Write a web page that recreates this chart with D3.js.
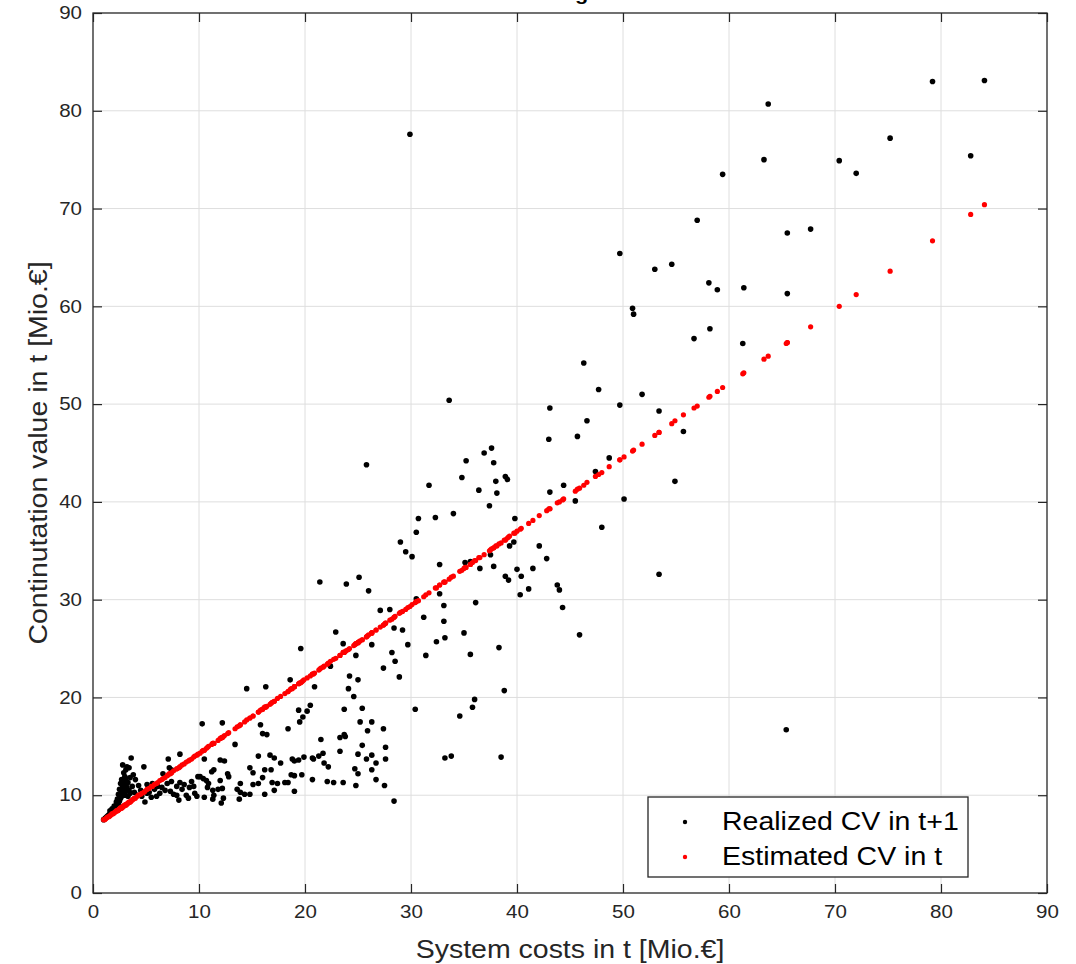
<!DOCTYPE html>
<html>
<head>
<meta charset="utf-8">
<script src="https://cdn.jsdelivr.net/npm/d3@7"></script>
<style>
  body { margin: 0; background: #fff; }
  svg { display: block; font-family: "Liberation Sans", Arial, Helvetica, sans-serif; }
</style>
</head>
<body>
<svg id="chart" width="1076" height="964"></svg>
<script>
// tick values and texts
const xTicks = [0, 10, 20, 30, 40, 50, 60, 70, 80, 90];
const yTicks = [0, 10, 20, 30, 40, 50, 60, 70, 80, 90];
const titleText = 'Continuation value regression in t and t+1';
const xLabel = 'System costs in t [Mio.\u20AC]';
const yLabel = 'Continutation value in t [Mio.\u20AC]';
const legendLabels = ['Realized CV in t+1', 'Estimated CV in t'];
const seriesColors = ['#000000', '#ff0000'];

// observations: [system cost in t, realized CV in t+1, estimated CV in t]
const clusterObs = [
  [1.0,7.5,7.5],[1.1,7.6,7.5],[1.2,7.7,7.6],[1.3,7.8,7.7],[1.4,7.9,7.8],[1.5,8.0,7.8],[1.6,8.1,7.9],[1.6,8.4,7.9],
  [1.7,8.2,8.0],[1.8,8.3,8.1],[1.8,8.6,8.1],[1.9,8.5,8.1],[2.0,8.4,8.2],[2.0,8.9,8.2],[2.1,8.7,8.3],[2.2,8.8,8.4],
  [2.2,9.3,8.4],[2.3,9.0,8.4],[2.3,9.6,8.4],[2.4,9.2,8.5],[2.4,10.1,8.5],[2.5,9.4,8.6],[2.5,10.6,8.6],[2.6,9.7,8.7],
  [2.6,11.2,8.7],[2.7,9.9,8.7],[2.7,10.4,8.7],[2.7,11.6,8.7],[2.8,10.2,8.8],[2.8,10.9,8.8],[2.8,13.1,8.8],[2.9,10.6,8.9],
  [2.9,11.4,8.9],[2.9,12.3,8.9],[3.0,10.0,9.0],[3.0,11.0,9.0],[3.0,11.9,9.0],[3.1,10.4,9.0],[3.1,11.7,9.0],[3.1,12.6,9.0],
  [3.2,10.8,9.1],[3.2,12.9,9.1],[3.3,9.9,9.2],[3.3,11.3,9.2],[3.4,10.5,9.3],[3.4,12.8,9.3],[3.5,10.2,9.3],[3.5,11.8,9.3],
  [3.6,13.8,9.4],[3.7,10.9,9.5],[3.8,12.1,9.6],[3.9,10.3,9.7],[4.0,11.6,9.7],[4.2,10.0,9.9],[4.3,11.0,10.0],[4.5,10.5,10.1],
  [4.6,9.9,10.2],[4.8,12.9,10.3],[4.9,9.3,10.4],[5.1,11.1,10.6],[5.1,10.2,10.6],[5.3,10.3,10.7],[5.5,9.8,10.9],[5.6,11.2,10.9],
  [5.8,10.6,11.1],[6.0,9.9,11.2],[6.1,10.9,11.3],[6.3,10.2,11.5],[6.5,10.8,11.6],[6.6,12.2,11.7],[6.8,10.5,11.8],[7.0,11.2,12.0],
  [7.1,13.7,12.1],[7.2,12.8,12.2],[7.3,10.4,12.2],[7.4,11.4,12.3],[7.4,12.6,12.3],[7.6,10.1,12.5],[7.9,10.9,12.7],[7.9,10.0,12.7],
  [8.1,9.5,12.8],[8.2,14.2,12.9],[8.2,11.3,12.9],[8.4,10.6,13.1],[8.6,11.1,13.2],[8.8,10.0,13.4],[9.0,9.7,13.5],[9.1,10.8,13.6],
  [9.3,11.4,13.7],[9.5,10.9,13.9],[9.6,10.2,14.0],[9.8,9.9,14.1],[9.9,11.9,14.2]
];

const bandObs = [
  [10.1,11.9,14.3],[10.3,17.3,14.5],[10.4,11.7,14.6],[10.5,13.7,14.6],[10.5,9.8,14.6],[10.7,11.5,14.8],[10.8,10.8,14.9],
  [10.9,11.2,15.0],[11.2,12.4,15.2],[11.3,10.5,15.3],[11.3,9.6,15.3],[11.4,12.6,15.3],[11.4,10.0,15.3],[11.8,10.6,15.6],
  [12.0,13.6,15.8],[12.0,11.5,15.8],[12.1,9.2,15.9],[12.2,17.4,15.9],[12.2,10.7,15.9],[12.3,9.7,16.0],[12.4,13.5,16.1],
  [12.7,12.2,16.3],[12.8,11.9,16.4],[13.4,15.2,16.8],[13.6,10.6,17.0],[13.8,9.6,17.1],[13.9,11.2,17.2],[13.9,10.3,17.2],
  [14.3,10.1,17.5],[14.5,20.9,17.7],[14.8,12.8,17.9],[14.8,10.1,17.9],[15.1,12.3,18.1],[15.1,11.1,18.1],[15.6,14.0,18.5],
  [15.6,11.2,18.5],[15.8,17.2,18.7],[16.0,16.3,18.8],[16.0,11.8,18.8],[16.2,12.6,19.0],[16.2,10.1,19.0],[16.3,21.1,19.0],
  [16.4,16.2,19.1],[16.7,14.1,19.3],[16.8,12.6,19.4],[16.9,11.3,19.5],[17.1,13.8,19.6],[17.1,10.5,19.6],[17.4,11.2,19.9],
  [17.7,13.3,20.1],[18.1,11.3,20.4],[18.4,16.8,20.6],[18.4,11.3,20.6],[18.6,21.8,20.8],[18.7,12.1,20.9],[18.8,13.7,20.9],
  [19.0,13.5,21.1],[19.0,12.0,21.1],[19.0,10.4,21.1],[19.4,18.7,21.4],[19.4,13.6,21.4],[19.5,17.5,21.5],[19.6,25.0,21.5],
  [19.7,12.1,21.6],[19.8,18.0,21.7],[19.9,13.9,21.8],[20.2,18.6,22.0],[20.5,19.2,22.2],[20.7,13.8,22.4],[20.7,11.6,22.4],
  [20.8,13.7,22.4],[20.9,21.1,22.5],[21.3,14.0,22.8],[21.4,31.8,22.9],[21.5,15.7,23.0],[21.7,14.3,23.1],[21.8,13.3,23.2],
  [22.1,11.4,23.4],[22.2,12.9,23.5],[22.4,23.2,23.7],[22.7,11.3,23.9],[22.9,26.7,24.0],[23.3,15.9,24.3],[23.3,14.5,24.3],
  [23.6,25.5,24.6],[23.6,11.3,24.6],[23.7,18.8,24.6],[23.7,16.2,24.6],[23.8,16.0,24.7],[23.9,31.6,24.8],[24.1,20.9,24.9],
  [24.2,22.2,25.0],[24.6,20.1,25.3],[24.7,12.7,25.4],[24.8,24.3,25.5],[24.8,11.0,25.5],[25.0,21.8,25.6],[25.0,14.2,25.6],
  [25.0,12.2,25.6],[25.1,32.3,25.7],[25.2,17.5,25.8],[25.4,18.9,25.9],[25.4,15.1,25.9],[25.8,43.8,26.2],[25.8,13.7,26.2],
  [25.9,16.6,26.3],[26.0,30.9,26.4],[26.3,25.4,26.6],[26.3,17.5,26.6],[26.3,14.1,26.6],[26.3,12.6,26.6],[26.7,13.3,26.9],
  [26.7,11.6,26.9],[27.1,28.9,27.2],[27.4,23.0,27.4],[27.4,16.8,27.4],[27.5,11.0,27.5],[27.6,14.9,27.6],[27.6,13.7,27.6],
  [28.0,29.0,27.9]
];

const upperObs = [
  [28.2,24.6,28.0],[28.4,27.1,28.2],[28.4,9.4,28.2],[28.5,23.7,28.3],[28.9,22.1,28.6],[29.0,35.9,28.7],[29.2,26.9,28.8],
  [29.5,34.9,29.0],[29.7,25.4,29.2],[29.9,77.6,29.3],[30.1,34.4,29.5],[30.4,18.8,29.7],[30.5,36.9,29.8],[30.5,30.1,29.8],
  [30.7,38.3,29.9],[31.2,28.2,30.3],[31.4,24.3,30.5],[31.7,41.7,30.7],[32.3,38.4,31.2],[32.4,25.7,31.2],[32.7,33.6,31.5],
  [32.7,30.6,31.5],[33.1,29.4,31.8],[33.1,27.8,31.8],[33.2,26.1,31.8],[33.2,13.8,31.8],[33.6,50.4,32.1],[33.8,14.0,32.3],
  [34.0,38.8,32.4],[34.6,18.1,32.9],[34.8,42.5,33.0],[35.0,26.6,33.2],[35.1,33.8,33.3],[35.2,44.2,33.3],[35.6,33.9,33.6],
  [35.6,24.4,33.6],[35.8,19.0,33.8],[36.0,19.8,34.0],[36.1,29.7,34.0],[36.4,41.2,34.3],[36.5,33.2,34.3],[36.9,45.0,34.6],
  [37.4,39.6,35.0],[37.5,34.6,35.1],[37.6,45.5,35.2],[37.8,44.0,35.3],[37.8,33.4,35.3],[38.0,42.1,35.5],[38.1,40.9,35.5],
  [38.3,25.1,35.7],[38.5,13.9,35.8],[38.8,20.7,36.1],[38.9,42.6,36.1],[38.9,32.4,36.1],[39.1,42.3,36.3],[39.2,32.0,36.4],
  [39.3,35.5,36.5],[39.7,35.9,36.8],[39.8,38.3,36.8],[40.0,33.1,37.0],[40.3,30.5,37.2],[40.4,32.4,37.3],[41.1,31.1,37.8],
  [41.5,33.2,38.1],[42.1,35.5,38.6],[42.8,34.2,39.1],[43.0,46.4,39.3],[43.1,49.6,39.3],[43.1,41.0,39.3],[43.8,31.5,39.9],
  [44.0,31.0,40.0],[44.3,29.2,40.2],[44.4,41.7,40.3],[45.5,40.1,41.1],[45.7,46.7,41.3],[45.9,26.4,41.4],[46.3,54.2,41.7],
  [46.6,48.3,42.0],[47.4,43.1,42.6],[47.7,51.5,42.8],[48.0,37.4,43.0],[48.7,44.5,43.6],[49.7,65.4,44.3],[49.7,49.9,44.3],
  [50.1,40.3,44.6],[50.9,59.8,45.2],[51.0,59.2,45.3],[51.8,51.0,45.9],[53.0,63.8,46.8],[53.4,49.3,47.1],[53.4,32.6,47.1],
  [54.6,64.3,48.0],[54.9,42.1,48.3],[55.7,47.2,48.9],[56.7,56.7,49.6],[57.0,68.8,49.8],[58.1,62.4,50.7],[58.2,57.7,50.8],
  [58.9,61.7,51.3],[59.4,73.5,51.7],[61.3,56.2,53.1],[61.4,61.9,53.2],[63.3,75.0,54.6],[63.7,80.7,54.9],[65.4,16.7,56.2],
  [65.5,67.5,56.3],[65.5,61.3,56.3],[67.7,67.9,57.9],[70.4,74.9,60.0],[72.0,73.6,61.2],[75.2,77.2,63.6],[79.2,83.0,66.7],
  [82.8,75.4,69.4],[84.1,83.1,70.4]
];

const STRETCH = 1.14;  // text in the figure is drawn a bit wide
const axisColor = '#262626';
const gridColor = '#dedede';

const svg = d3.select('#chart');
const plotLeft = 93, plotRight = 1047, plotTop = 13, plotBottom = 893;

const x = d3.scaleLinear().domain([0, 90]).range([plotLeft, plotRight]);
const y = d3.scaleLinear().domain([0, 90]).range([plotBottom, plotTop]);

const observations = clusterObs.concat(bandObs, upperObs);

// title, mostly cut off at the top edge of the figure (as in the original)
svg.append('text')
  .attr('transform', 'translate(' + ((plotLeft + plotRight) / 2) + ',0) scale(' + STRETCH + ',1)')
  .attr('text-anchor', 'middle')
  .style('font-size', '19px')
  .style('font-weight', 'bold')
  .style('fill', '#000')
  .text(titleText);

// grid
const grid = svg.append('g').attr('class', 'grid');
grid.selectAll('.gx')
  .data(xTicks.slice(1, -1))
  .enter().append('line')
  .attr('x1', function(d) { return x(d); })
  .attr('x2', function(d) { return x(d); })
  .attr('y1', plotTop)
  .attr('y2', plotBottom)
  .style('stroke', gridColor)
  .style('stroke-width', 1);
grid.selectAll('.gy')
  .data(yTicks.slice(1, -1))
  .enter().append('line')
  .attr('x1', plotLeft)
  .attr('x2', plotRight)
  .attr('y1', function(d) { return y(d); })
  .attr('y2', function(d) { return y(d); })
  .style('stroke', gridColor)
  .style('stroke-width', 1);

// points: realized first, estimated on top
svg.append('g')
  .selectAll('circle')
  .data(observations)
  .enter().append('circle')
  .attr('cx', function(d) { return x(d[0]); })
  .attr('cy', function(d) { return y(d[1]); })
  .attr('r', 2.8)
  .style('fill', seriesColors[0]);

svg.append('g')
  .selectAll('circle')
  .data(observations)
  .enter().append('circle')
  .attr('cx', function(d) { return x(d[0]); })
  .attr('cy', function(d) { return y(d[2]); })
  .attr('r', 2.6)
  .style('fill', seriesColors[1]);

// axes with inward ticks on all four sides
function styleAxis(g) {
  g.select('.domain').remove();
  g.selectAll('.tick line').style('stroke', axisColor).style('stroke-width', 1.2);
  g.selectAll('.tick text').style('fill', axisColor).style('font-size', '18px');
}

const xAxis = svg.append('g')
  .attr('transform', 'translate(0,' + plotBottom + ')')
  .call(d3.axisBottom(x).tickValues(xTicks).tickSize(-9).tickSizeOuter(0).tickPadding(12).tickFormat(d3.format('d')))
  .call(styleAxis);
xAxis.selectAll('.tick text').attr('transform', 'scale(' + STRETCH + ',1)');

const yAxis = svg.append('g')
  .attr('transform', 'translate(' + plotLeft + ',0)')
  .call(d3.axisLeft(y).tickValues(yTicks).tickSize(-9).tickSizeOuter(0).tickPadding(11).tickFormat(d3.format('d')))
  .call(styleAxis);
yAxis.selectAll('.tick text')
  .attr('x', -11 / STRETCH)
  .attr('transform', 'scale(' + STRETCH + ',1)');

svg.append('g')
  .attr('transform', 'translate(0,' + plotTop + ')')
  .call(d3.axisTop(x).tickValues(xTicks).tickSize(-9).tickSizeOuter(0).tickFormat(''))
  .call(styleAxis);

svg.append('g')
  .attr('transform', 'translate(' + plotRight + ',0)')
  .call(d3.axisRight(y).tickValues(yTicks).tickSize(-9).tickSizeOuter(0).tickFormat(''))
  .call(styleAxis);

svg.append('rect')
  .attr('x', plotLeft)
  .attr('y', plotTop)
  .attr('width', plotRight - plotLeft)
  .attr('height', plotBottom - plotTop)
  .style('fill', 'none')
  .style('stroke', axisColor)
  .style('stroke-width', 1.3);

// axis labels
svg.append('text')
  .attr('transform', 'translate(' + ((plotLeft + plotRight) / 2) + ',958) scale(' + STRETCH + ',1)')
  .attr('text-anchor', 'middle')
  .style('font-size', '25px')
  .style('fill', axisColor)
  .text(xLabel);

svg.append('text')
  .attr('transform', 'translate(47,' + ((plotTop + plotBottom) / 2) + ') rotate(-90) scale(' + STRETCH + ',1)')
  .attr('text-anchor', 'middle')
  .style('font-size', '25px')
  .style('fill', axisColor)
  .text(yLabel);

// legend
const legend = svg.append('g').attr('transform', 'translate(648,797)');
legend.append('rect')
  .attr('width', 320)
  .attr('height', 80)
  .style('fill', '#fff')
  .style('stroke', axisColor)
  .style('stroke-width', 1.3);

const items = legend.selectAll('.item')
  .data(legendLabels)
  .enter().append('g')
  .attr('class', 'item')
  .attr('transform', function(d, i) { return 'translate(0,' + (25 + i * 35) + ')'; });
items.append('circle')
  .attr('cx', 37)
  .attr('cy', 0)
  .attr('r', 2.2)
  .style('fill', function(d, i) { return seriesColors[i]; });
items.append('text')
  .attr('transform', 'translate(74,8) scale(' + STRETCH + ',1)')
  .style('font-size', '25px')
  .style('fill', '#000')
  .text(function(d) { return d; });
</script>
</body>
</html>
